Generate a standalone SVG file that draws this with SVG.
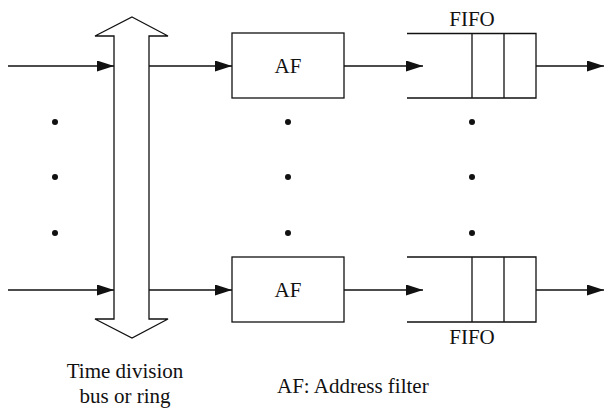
<svg xmlns="http://www.w3.org/2000/svg" width="607" height="408" viewBox="0 0 607 408">
<style>
.s{fill:none;stroke:#111;stroke-width:1.3}
.b{fill:#fff;stroke:#111;stroke-width:1.3}
.t{font-family:"Liberation Serif","Times New Roman",serif;font-size:21px;fill:#111}
.d{fill:#111}
</style>
<defs>
<marker id="ah" markerUnits="userSpaceOnUse" markerWidth="17" markerHeight="11" refX="17" refY="5.5" orient="auto">
<path d="M0,0 L17,5.5 L0,11 z" fill="#111"/>
</marker>
</defs>
<g id="bus">
<polygon class="b" points="132,17 168,36 149,36 149,319 168,319 132,338 95,319 114,319 114,36 95,36"/>
</g>
<g id="af1"><rect class="b" x="232" y="33" width="112" height="65"/><text class="t" x="288" y="73" text-anchor="middle">AF</text></g>
<g id="af2"><rect class="b" x="232" y="257" width="112" height="65"/><text class="t" x="288" y="297" text-anchor="middle">AF</text></g>
<g id="fifo1">
<path class="s" d="M407,33.5 H536 V98 H407 M472,33.5 V98 M504,33.5 V98"/>
<text class="t" x="472" y="26" text-anchor="middle">FIFO</text>
</g>
<g id="fifo2">
<path class="s" d="M407,257 H536 V322 H407 M472,257 V322 M504,257 V322"/>
<text class="t" x="472" y="344" text-anchor="middle">FIFO</text>
</g>
<g id="connectors">
<line class="s" x1="8" y1="66" x2="114" y2="66" marker-end="url(#ah)"/>
<line class="s" x1="149" y1="66" x2="232" y2="66" marker-end="url(#ah)"/>
<line class="s" x1="344" y1="66" x2="423" y2="66" marker-end="url(#ah)"/>
<line class="s" x1="536" y1="66" x2="604" y2="66" marker-end="url(#ah)"/>
<line class="s" x1="8" y1="290" x2="114" y2="290" marker-end="url(#ah)"/>
<line class="s" x1="149" y1="290" x2="232" y2="290" marker-end="url(#ah)"/>
<line class="s" x1="344" y1="290" x2="423" y2="290" marker-end="url(#ah)"/>
<line class="s" x1="536" y1="290" x2="604" y2="290" marker-end="url(#ah)"/>
</g>
<g id="dots">
<circle class="d" cx="55" cy="122" r="3"/><circle class="d" cx="55" cy="177" r="3"/><circle class="d" cx="55" cy="233" r="3"/>
<circle class="d" cx="288" cy="122" r="3"/><circle class="d" cx="288" cy="177" r="3"/><circle class="d" cx="288" cy="233" r="3"/>
<circle class="d" cx="472" cy="122" r="3"/><circle class="d" cx="472" cy="177" r="3"/><circle class="d" cx="472" cy="233" r="3"/>
</g>
<g id="labels">
<text class="t" x="125" y="378" text-anchor="middle">Time division</text>
<text class="t" x="125" y="403" text-anchor="middle">bus or ring</text>
<text class="t" x="277" y="393">AF: Address filter</text>
</g>
</svg>
